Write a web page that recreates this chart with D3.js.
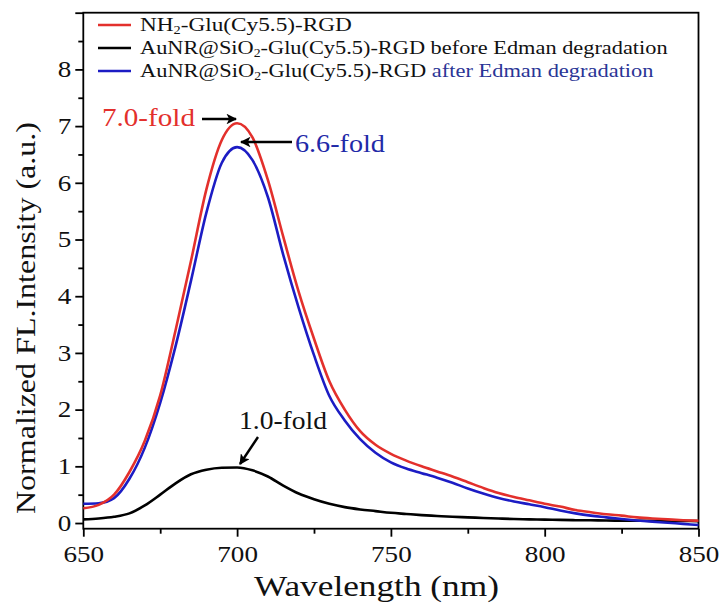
<!DOCTYPE html>
<html><head><meta charset="utf-8">
<script src="https://cdn.jsdelivr.net/npm/d3@7"></script>
<style>body{margin:0;background:#fff}svg{display:block}text{font-family:"Liberation Serif","Times New Roman",serif}</style>
</head><body><svg id="c" width="721" height="605"></svg>
<script>
const wavelengths = d3.range(650, 851, 5);
const redVals = [0.26,0.32,0.50,0.90,1.45,2.25,3.40,4.62,5.88,6.75,7.05,6.80,6.05,5.05,4.08,3.25,2.50,2.00,1.62,1.38,1.22,1.10,1.00,0.91,0.82,0.72,0.62,0.53,0.46,0.40,0.34,0.29,0.23,0.19,0.155,0.13,0.10,0.08,0.065,0.05,0.04];
const blackVals = [0.065,0.08,0.11,0.17,0.31,0.50,0.70,0.86,0.94,0.975,0.98,0.93,0.82,0.66,0.52,0.42,0.34,0.28,0.24,0.21,0.18,0.16,0.14,0.125,0.11,0.10,0.09,0.08,0.07,0.065,0.06,0.055,0.05,0.048,0.045,0.042,0.04,0.038,0.036,0.035,0.034];
const blueVals = [0.34,0.35,0.44,0.78,1.33,2.12,3.12,4.27,5.47,6.35,6.63,6.40,5.75,4.73,3.80,2.96,2.24,1.81,1.48,1.24,1.07,0.96,0.88,0.80,0.71,0.61,0.52,0.44,0.38,0.33,0.28,0.22,0.17,0.13,0.10,0.07,0.045,0.025,0.005,-0.015,-0.035];
const xTicks = [650,700,750,800,850];
const yTicks = [0,1,2,3,4,5,6,7,8];
const foldLabels = ["7.0-fold","6.6-fold","1.0-fold"];

const RED = "#e3302c", BLUE = "#1c1cc4", BLACK = "#000";
const SX = 1.18;
const svg = d3.select("#c");
const x = d3.scaleLinear().domain([650,850]).range([83.3,698.5]);
const y = d3.scaleLinear().domain([-0.1,9]).range([528.7,12.7]);

function fitWidth(sel, x0, w){
  const bw = sel.node().getBBox().width;
  sel.attr("transform",`translate(${x0},0) scale(${w/bw},1) translate(${-x0},0)`);
}

svg.append("defs").append("marker").attr("id","ah").attr("viewBox","0 0 10 10")
  .attr("refX",9).attr("refY",5).attr("markerWidth",4.4).attr("markerHeight",4.4)
  .attr("markerUnits","strokeWidth").attr("orient","auto")
  .append("path").attr("d","M0,0 L10,5 L0,10 L2.5,5 Z").attr("fill","#000");

svg.append("rect").attr("x",x(650)).attr("y",y(9)).attr("width",x(850)-x(650)).attr("height",y(-0.1)-y(9))
  .attr("fill","none").attr("stroke","#000").attr("stroke-width",1.8);

const xAx = svg.append("g").attr("transform",`translate(0,${y(-0.1)})`)
  .call(d3.axisBottom(x).tickValues(xTicks).tickSize(8).tickFormat(d3.format("d")));
svg.append("g").attr("transform",`translate(0,${y(-0.1)})`)
  .call(d3.axisBottom(x).tickValues(d3.range(675,850,50)).tickSize(5).tickFormat(""));
const yAx = svg.append("g").attr("transform",`translate(${x(650)},0)`)
  .call(d3.axisLeft(y).tickValues(yTicks).tickSize(8).tickFormat(d3.format("d")));
svg.append("g").attr("transform",`translate(${x(650)},0)`)
  .call(d3.axisLeft(y).tickValues([9]).tickSize(8).tickFormat(""));
svg.append("g").attr("transform",`translate(${x(650)},0)`)
  .call(d3.axisLeft(y).tickValues(d3.range(0.5,9,1)).tickSize(5).tickFormat(""));
svg.selectAll(".domain").remove();
svg.selectAll(".tick line").attr("stroke","#000").attr("stroke-width",1.8);
xAx.selectAll(".tick text").attr("font-size",23).attr("dy","0.95em").attr("fill","#111")
  .attr("transform",`scale(${SX},1)`).attr("x",0);
yAx.selectAll(".tick text").attr("font-size",23).attr("fill","#111")
  .attr("transform",`translate(-12,0) scale(${SX},1) translate(12,0)`).attr("x",-12);

const xt = svg.append("text").attr("x",254).attr("y",596).attr("font-size",30).attr("fill","#111").text("Wavelength (nm)");
fitWidth(xt, 254, 245);
svg.append("text").attr("transform","translate(35,318) rotate(-90)").attr("text-anchor","middle")
  .attr("font-size",27).attr("fill","#111").attr("textLength",392).attr("lengthAdjust","spacingAndGlyphs")
  .text("Normalized FL.Intensity (a.u.)");

const line = d3.line().x(d=>x(d[0])).y(d=>y(d[1])).curve(d3.curveMonotoneX);
const mk = vals => wavelengths.map((w,i)=>[w,vals[i]]);
svg.append("path").datum(mk(blackVals)).attr("d",line).attr("fill","none").attr("stroke",BLACK).attr("stroke-width",2.6);
svg.append("path").datum(mk(blueVals)).attr("d",line).attr("fill","none").attr("stroke",BLUE).attr("stroke-width",2.6);
svg.append("path").datum(mk(redVals)).attr("d",line).attr("fill","none").attr("stroke",RED).attr("stroke-width",2.6);

const lg = svg.append("g").attr("font-size",19.5).attr("fill","#111");
const rows = [25,48,71];
[RED,BLACK,BLUE].forEach((c,i)=>{
  lg.append("line").attr("x1",98).attr("x2",131).attr("y1",rows[i]).attr("y2",rows[i]).attr("stroke",c).attr("stroke-width",2.6);
});
const t1 = lg.append("text").attr("x",140).attr("y",rows[0]+6);
t1.append("tspan").text("NH");
t1.append("tspan").attr("font-size",12).attr("dy",3).text("2");
t1.append("tspan").attr("dy",-3).text("-Glu(Cy5.5)-RGD");
fitWidth(t1,140,212);
const t2 = lg.append("text").attr("x",140).attr("y",rows[1]+6);
t2.append("tspan").text("AuNR@SiO");
t2.append("tspan").attr("font-size",12).attr("dy",3).text("2");
t2.append("tspan").attr("dy",-3).text("-Glu(Cy5.5)-RGD before Edman degradation");
fitWidth(t2,140,528);
const t3 = lg.append("text").attr("x",140).attr("y",rows[2]+6);
t3.append("tspan").text("AuNR@SiO");
t3.append("tspan").attr("font-size",12).attr("dy",3).text("2");
t3.append("tspan").attr("dy",-3).text("-Glu(Cy5.5)-RGD ");
t3.append("tspan").attr("fill","#2a3596").text("after Edman degradation");
fitWidth(t3,140,514);

const a1 = svg.append("text").attr("x",102).attr("y",126).attr("font-size",24.5).attr("fill",RED).text(foldLabels[0]);
fitWidth(a1,102,93);
const a2 = svg.append("text").attr("x",295).attr("y",152).attr("font-size",24.5).attr("fill","#1f2aa8").text(foldLabels[1]);
fitWidth(a2,295,90);
const a3 = svg.append("text").attr("x",239).attr("y",429).attr("font-size",24.5).attr("fill","#111").text(foldLabels[2]);
fitWidth(a3,239,88);
const arrow = (x1,y1,x2,y2)=>svg.append("line").attr("x1",x1).attr("y1",y1).attr("x2",x2).attr("y2",y2)
  .attr("stroke","#000").attr("stroke-width",2.4).attr("marker-end","url(#ah)");
arrow(202,119,236,119);
arrow(292,142,241,142);
arrow(258,437,240,464);
</script></body></html>
